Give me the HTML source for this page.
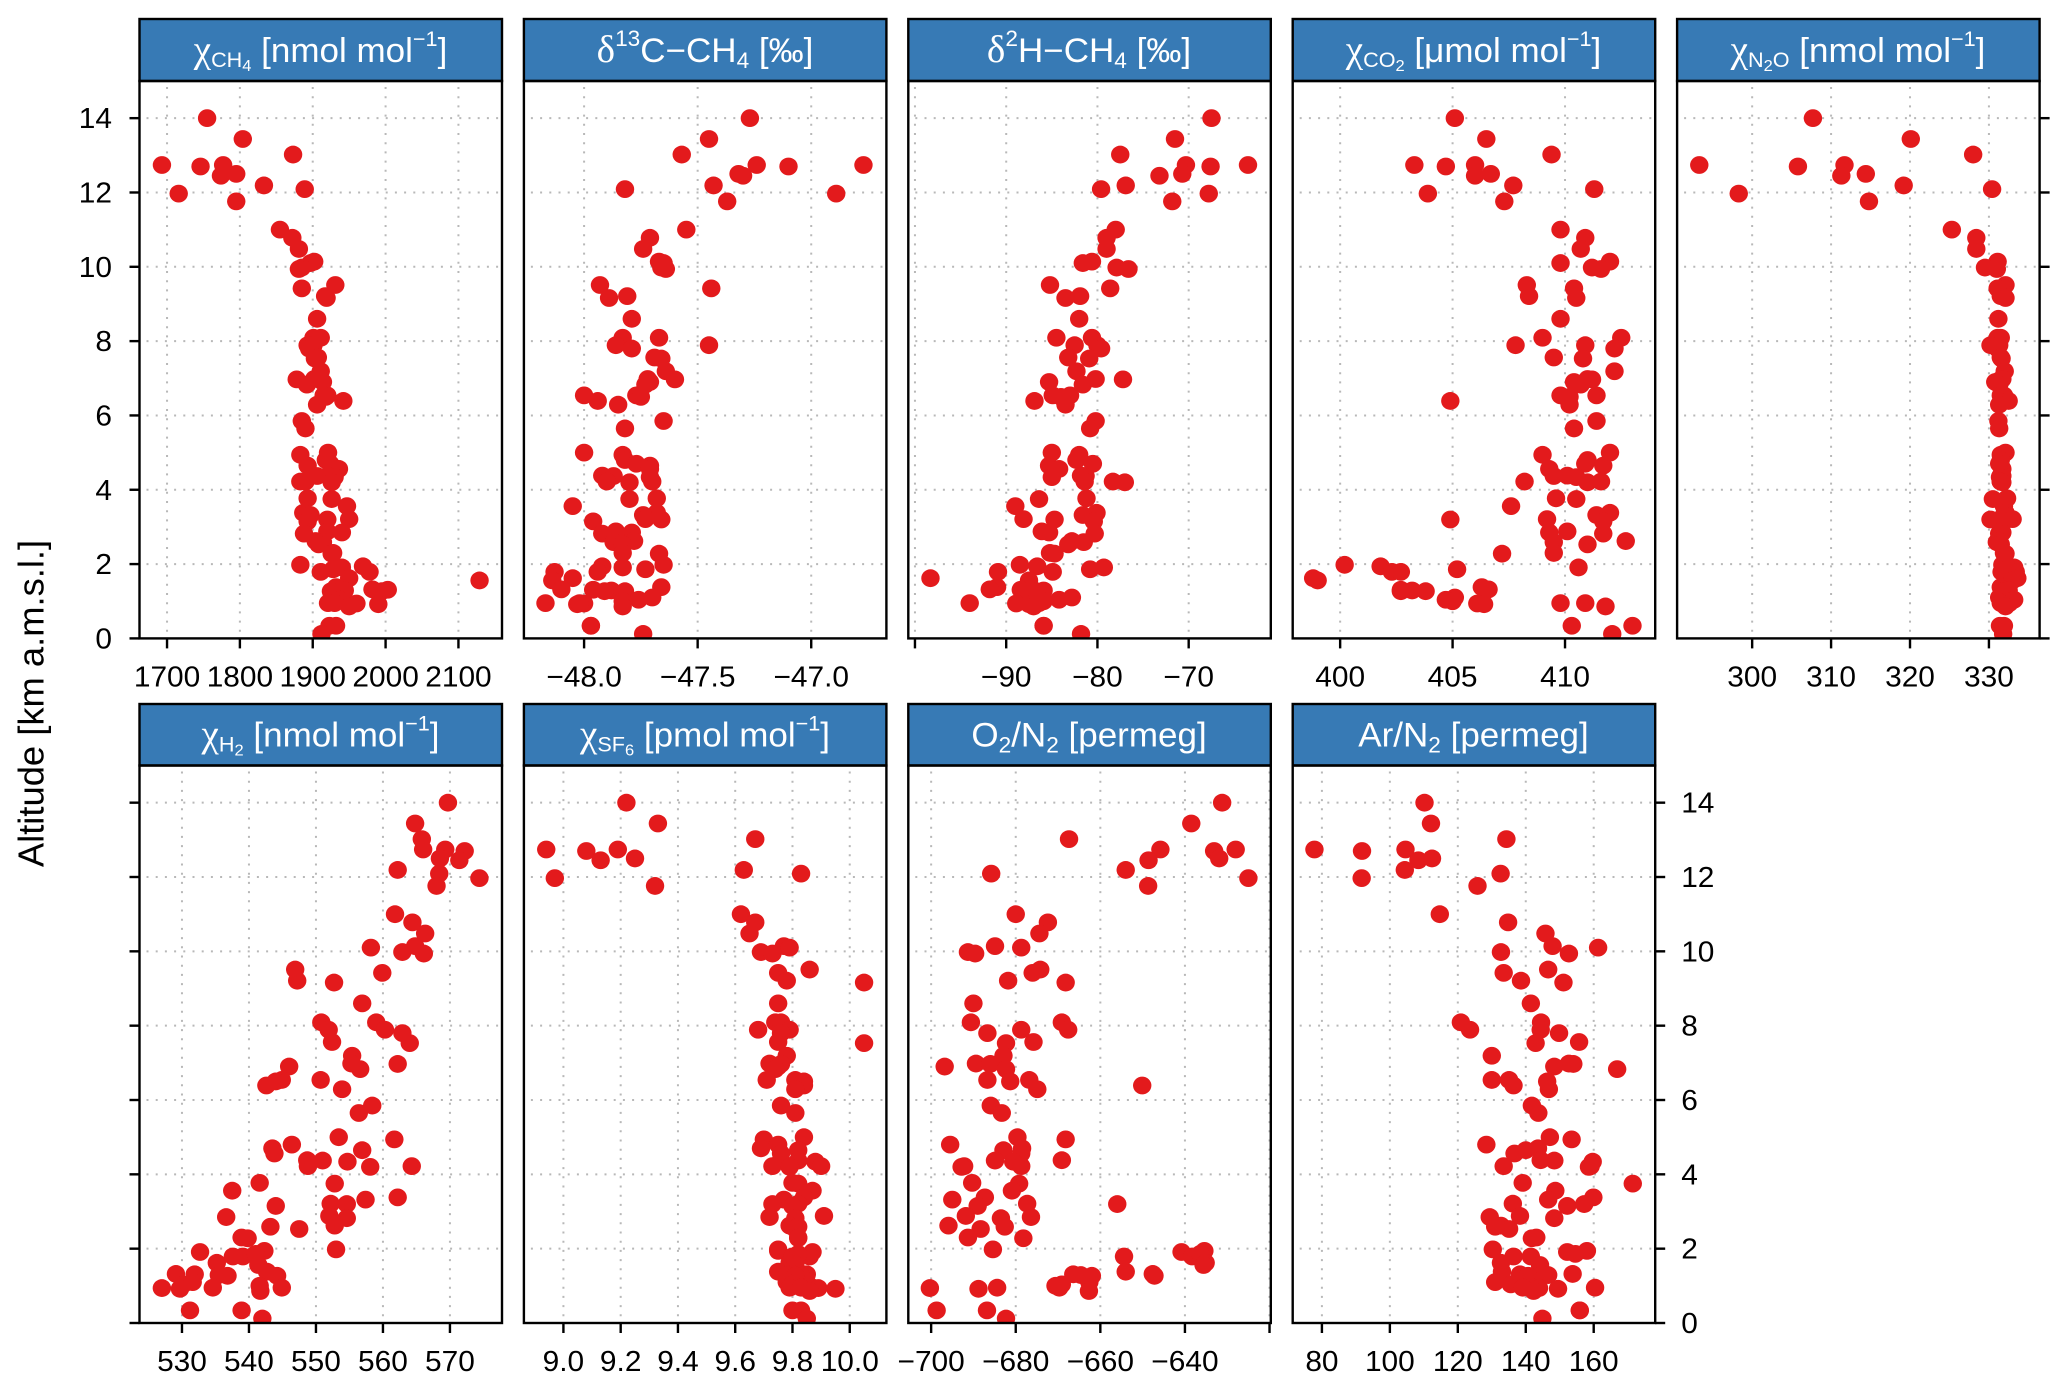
<!DOCTYPE html>
<html lang="en">
<head>
<meta charset="utf-8">
<title>Vertical profiles of trace gases</title>
<style>
html,body{margin:0;padding:0;background:#fff;}
svg{display:block;font-family:"Liberation Sans",sans-serif;}
.strip-title{fill:#fff;font-size:34px;text-anchor:middle;}
.sym{font-family:"Liberation Serif",serif;font-size:38px;}
</style>
</head>
<body>
<svg id="chart" xmlns="http://www.w3.org/2000/svg" width="2067" height="1389" viewBox="0 0 2067 1389">
<rect x="0" y="0" width="2067" height="1389" fill="#fff"/>
<text transform="translate(43.5,703.5) rotate(-90) scale(1.01,1)" text-anchor="middle" font-size="36" fill="#000">Altitude [km a.m.s.l.]</text>
<g id="panels"></g>
<g id="titles">
<g transform="translate(320.5,62) scale(1.03,1)"><text class="strip-title"><tspan class="sym">χ</tspan><tspan font-size="21" dy="5">CH</tspan><tspan font-size="16" dy="4">4</tspan><tspan dy="-9"> [nmol mol</tspan><tspan font-size="21" dy="-16">−1</tspan><tspan dy="16">]</tspan></text></g>
<g transform="translate(705,62) scale(1.03,1)"><text class="strip-title"><tspan class="sym">δ</tspan><tspan font-size="22" dy="-16">13</tspan><tspan dy="16">C−CH</tspan><tspan font-size="22" dy="6">4</tspan><tspan dy="-6"> [‰]</tspan></text></g>
<g transform="translate(1089,62) scale(1.03,1)"><text class="strip-title"><tspan class="sym">δ</tspan><tspan font-size="22" dy="-16">2</tspan><tspan dy="16">H−CH</tspan><tspan font-size="22" dy="6">4</tspan><tspan dy="-6"> [‰]</tspan></text></g>
<g transform="translate(1473.5,62) scale(1.03,1)"><text class="strip-title"><tspan class="sym">χ</tspan><tspan font-size="21" dy="5">CO</tspan><tspan font-size="16" dy="4">2</tspan><tspan dy="-9"> [μmol mol</tspan><tspan font-size="21" dy="-16">−1</tspan><tspan dy="16">]</tspan></text></g>
<g transform="translate(1858,62) scale(1.03,1)"><text class="strip-title"><tspan class="sym">χ</tspan><tspan font-size="21" dy="5">N</tspan><tspan font-size="16" dy="4">2</tspan><tspan font-size="21" dy="-4">O</tspan><tspan dy="-5"> [nmol mol</tspan><tspan font-size="21" dy="-16">−1</tspan><tspan dy="16">]</tspan></text></g>
<g transform="translate(320.5,746.5) scale(1.03,1)"><text class="strip-title"><tspan class="sym">χ</tspan><tspan font-size="21" dy="5">H</tspan><tspan font-size="16" dy="4">2</tspan><tspan dy="-9"> [nmol mol</tspan><tspan font-size="21" dy="-16">−1</tspan><tspan dy="16">]</tspan></text></g>
<g transform="translate(705,746.5) scale(1.03,1)"><text class="strip-title"><tspan class="sym">χ</tspan><tspan font-size="21" dy="5">SF</tspan><tspan font-size="16" dy="4">6</tspan><tspan dy="-9"> [pmol mol</tspan><tspan font-size="21" dy="-16">−1</tspan><tspan dy="16">]</tspan></text></g>
<g transform="translate(1089,746.5) scale(1.03,1)"><text class="strip-title">O<tspan font-size="22" dy="6">2</tspan><tspan dy="-6">/N</tspan><tspan font-size="22" dy="6">2</tspan><tspan dy="-6"> [permeg]</tspan></text></g>
<g transform="translate(1473.5,746.5) scale(1.03,1)"><text class="strip-title">Ar/N<tspan font-size="22" dy="6">2</tspan><tspan dy="-6"> [permeg]</tspan></text></g>
</g>
</svg>
<script>
var altitudes = [14.0,13.44,13.02,12.74,12.7,12.74,12.45,12.5,12.19,12.09,11.97,11.76,11.0,10.78,10.48,10.14,10.1,9.98,9.94,9.51,9.42,9.21,9.16,8.6,8.09,8.09,7.89,7.89,7.8,7.56,7.53,7.19,6.9,6.98,6.97,6.83,6.54,6.54,6.5,6.39,6.29,5.85,5.65,5.0,4.94,4.8,4.7,4.65,4.56,4.38,4.37,4.34,4.22,4.2,4.22,3.77,3.75,3.56,3.38,3.32,3.2,3.21,3.15,2.85,2.88,2.82,2.62,2.59,2.53,2.28,2.3,1.98,1.91,1.94,1.79,1.79,1.86,1.62,1.56,1.38,1.32,1.31,1.29,1.27,1.27,1.1,1.04,1.0,0.94,0.92,0.95,0.95,0.86,0.34,0.34,0.12];

var ch4Values = [1755,1804,1873,1693,1746,1777,1774,1795,1833,1889,1716,1795,1855,1872,1881,1902,1897,1885,1881,1931,1885,1917,1919,1906,1911,1901,1901,1893,1895,1907,1903,1911,1914,1902,1878,1892,1920,1915,1918,1942,1906,1885,1890,1921,1883,1918,1924,1893,1936,1921,1906,1930,1883,1926,1890,1893,1926,1947,1887,1897,1920,1950,1893,1940,1920,1888,1904,1914,1908,1926,1928,1883,1940,1969,1978,1911,1928,1950,2129,1932,1982,2003,1944,1995,1925,1926,1937,1945,1960,1990,1930,1921,1950,1932,1923,1912];

var d13cValues = [-47.27,-47.45,-47.57,-47.24,-47.10,-46.77,-47.30,-47.32,-47.43,-47.82,-46.89,-47.37,-47.55,-47.71,-47.74,-47.67,-47.65,-47.66,-47.64,-47.93,-47.44,-47.81,-47.89,-47.79,-47.83,-47.67,-47.45,-47.86,-47.79,-47.69,-47.66,-47.64,-47.71,-47.72,-47.60,-47.73,-48.0,-47.77,-47.75,-47.94,-47.85,-47.65,-47.82,-48.0,-47.83,-47.82,-47.77,-47.71,-47.71,-47.92,-47.87,-47.71,-47.90,-47.80,-47.70,-47.68,-47.80,-48.05,-47.68,-47.74,-47.66,-47.73,-47.96,-47.79,-47.86,-47.92,-47.78,-47.87,-47.83,-47.67,-47.83,-47.65,-47.83,-47.92,-48.13,-47.94,-47.73,-48.05,-48.14,-47.66,-48.10,-47.96,-47.88,-47.82,-47.91,-47.70,-47.76,-47.83,-48.0,-48.03,-48.02,-48.17,-47.83,-47.97,-47.97,-47.74];

var d2hValues = [-67.5,-71.5,-77.5,-70.3,-67.6,-63.5,-73.2,-70.7,-76.9,-79.6,-67.8,-71.8,-78,-79,-79,-80.6,-81.6,-77.9,-76.6,-85.2,-78.6,-81.9,-83.5,-82,-84.5,-80.6,-82.5,-80,-79.6,-83.2,-80.9,-82.3,-85.3,-80.2,-77.2,-81.6,-84.9,-83,-84,-86.9,-83.5,-80.2,-80.8,-85,-82,-82.3,-80.5,-85.3,-84.2,-81.8,-81.3,-85,-78.3,-77,-81.4,-81.2,-86.4,-89,-80.1,-81.6,-84.7,-88.1,-80.4,-85.3,-86.1,-80.3,-82.8,-81.5,-83.2,-84.7,-85.2,-88.5,-79.3,-86.6,-90.9,-84.9,-80.8,-98.3,-87.5,-91,-91.8,-88.4,-85.9,-87.5,-86.7,-82.8,-84.2,-85.9,-88.9,-87.5,-86.4,-94,-87,-85.9,-85.9,-81.8];

var co2Values = [405.1,406.5,409.4,403.3,404.7,406.0,406,406.7,407.7,411.3,403.9,407.3,409.8,410.9,410.7,412,409.8,411.2,411.6,408.3,410.4,408.4,410.5,409.8,412.5,409,407.8,410.9,412.2,409.5,410.8,412.2,410.4,411,411.2,410.7,409.8,411.4,410.2,404.9,410.2,411.4,410.4,412,409,411,410.9,411.7,409.3,410.1,409.5,410.5,408.2,411,411.6,409.6,410.5,407.6,412,411.4,404.9,409.2,411.7,409.3,410.1,411.7,412.7,409.5,411,407.2,409.5,400.2,410.6,401.8,402.3,402.7,405.2,398.8,399,406.3,406.6,402.7,403.2,403.8,402.7,405.1,404.7,405,406.1,406.4,409.8,410.9,411.8,410.3,413,412.1];

var n2oValues = [307.7,320.1,328,293.3,305.8,311.7,311.3,314.4,319.2,330.4,298.3,314.8,325.3,328.4,328.4,331.1,331,329.5,331,332.1,331.1,331.5,332.1,331.2,331.5,331.1,330.2,331.3,331.1,331.5,331.6,332,330.8,331.7,331.5,331.3,331.9,331.5,332,332.5,331.3,331.2,331.3,332.1,331.5,331.5,331.3,331.5,331.7,331.5,331.7,331.4,331.5,331.7,331.5,332.3,330.5,331.9,332.1,331.9,330.2,333,331.9,331.7,331.5,331.3,331.3,331,331.5,332.1,331.9,331.7,333.2,332.5,331.6,333.4,332.3,333.6,333,331.5,332.3,331.9,332.5,331.7,332.1,331.3,333.2,332.3,331.7,331.9,332.6,331.5,332.1,331.4,331.9,331.8];

var h2Values = [569.7,564.8,565.8,569.3,572.2,566,571.4,568.5,562.2,568.4,574.4,568,561.8,564.4,566.3,564.8,558.2,562.9,566.1,546.9,559.9,547.2,552.7,556.9,550.8,559,551.9,560.3,562.9,552.4,564,555.4,546,555.3,562.2,556.6,544.9,550.7,544,542.6,553.9,558.4,556.4,553.4,561.7,546.4,543.5,556.9,543.8,548.7,551,554.7,548.8,558.1,564.3,541.6,552.8,537.5,562.2,557.4,554.6,552.2,544,536.6,552,554.6,552.8,543.2,547.5,539.8,538.9,553,532.7,542.3,537.6,539.1,541,535.2,541.4,542.7,529.1,531.9,535.5,536.8,544.2,531.6,530.2,541.6,527,529.7,534.6,544.9,541.7,531.2,538.9,542];

var sf6Values = [9.22,9.33,9.67,8.94,9.08,9.19,9.13,9.25,9.63,9.83,8.97,9.32,9.62,9.67,9.65,9.77,9.79,9.69,9.73,9.86,9.75,9.78,10.05,9.75,9.74,9.76,9.68,9.79,9.76,9.75,10.05,9.78,9.75,9.72,9.76,9.74,9.71,9.81,9.84,9.84,9.81,9.76,9.81,9.84,9.70,9.75,9.69,9.82,9.76,9.76,9.82,9.88,9.73,9.79,9.90,9.80,9.82,9.87,9.84,9.77,9.73,9.82,9.80,9.72,9.91,9.81,9.79,9.82,9.81,9.82,9.82,9.75,9.87,9.75,9.86,9.80,9.82,9.79,9.81,9.75,9.80,9.85,9.78,9.83,9.81,9.78,9.80,9.86,9.89,9.95,9.79,9.83,9.86,9.80,9.83,9.85];

var o2n2Values = [-631.2,-638.5,-667.4,-645.8,-633.1,-628,-648.6,-631.9,-654,-685.8,-625,-648.7,-680,-672.4,-674.4,-684.9,-678.7,-691.3,-689.6,-674.2,-676,-681.8,-668.2,-690,-669.1,-690.6,-678.7,-667.6,-686.7,-675.8,-682.3,-682.9,-696.8,-689.4,-686,-682.3,-676.8,-686.7,-681.3,-650.1,-674.9,-685.9,-683.3,-679.6,-668.2,-695.5,-678.5,-682.9,-678.7,-669.1,-684.9,-680.6,-692.2,-692.8,-678.7,-690.3,-679.2,-680.9,-687.3,-695,-656,-677.3,-689,-676.4,-691.8,-683.5,-695.9,-682.6,-688.3,-678.2,-691.3,-685.4,-640.8,-635.4,-654.4,-638.3,-636.4,-635.1,-635.6,-654,-647.6,-666.4,-664.6,-647.2,-662,-662.6,-669.1,-670.6,-700.3,-688.8,-684.4,-669.7,-662.7,-698.7,-686.8,-682.3];

var arn2Values = [110.2,112.1,134.3,77.8,91.8,104.6,108.4,112.4,104.4,132.6,91.7,125.8,114.7,134.8,145.8,147.9,161.3,132.7,152.7,146.6,133.5,138.6,151.1,141.5,120.9,144.5,123.6,144.4,149.8,155.7,142.9,130,148.4,152.7,154,166.9,130,135.1,146.3,136.4,146.8,141.8,143.7,147.1,153.5,128.4,143.6,140,136.7,144.4,148.4,159.7,133.5,158.6,159.1,139.1,171.5,148.7,159.9,146.6,157.2,136.2,152.2,129.4,138.3,148.4,132.7,131,135.1,141.8,143.1,130.3,152.2,158,136.4,141.5,154.6,132.7,144.2,133,153.8,138.3,146.6,142.3,140.7,131,135.6,141,143.9,149.5,160.4,139.1,142.3,155.9,155.9,144.9];

var ch4Ticks = [1700,1800,1900,2000,2100];
var ch4Labels = ["1700","1800","1900","2000","2100"];
var d13cTicks = [-48,-47.5,-47];
var d13cLabels = ["−48.0","−47.5","−47.0"];
var d2hTicks = [-100,-90,-80,-70];
var d2hLabels = ["","−90","−80","−70"];
var co2Ticks = [400,405,410];
var co2Labels = ["400","405","410"];
var n2oTicks = [300,310,320,330];
var n2oLabels = ["300","310","320","330"];
var h2Ticks = [530,540,550,560,570];
var h2Labels = ["530","540","550","560","570"];
var sf6Ticks = [9.0,9.2,9.4,9.6,9.8,10.0];
var sf6Labels = ["9.0","9.2","9.4","9.6","9.8","10.0"];
var o2n2Ticks = [-700,-680,-660,-640,-620];
var o2n2Labels = ["−700","−680","−660","−640",""];
var arn2Ticks = [80,100,120,140,160];
var arn2Labels = ["80","100","120","140","160"];
var altitudeTicks = [0,2,4,6,8,10,12,14];
var altitudeLabels = ["0","2","4","6","8","10","12","14"];
var altitudeRange = [0,15];

var ch4Range = [1662.2,2159.8];
var d13cRange = [-48.265,-46.669];
var d2hRange = [-100.73,-61.0];
var co2Range = [397.89,414.01];
var n2oRange = [290.49,336.42];
var h2Range = [523.66,577.77];
var sf6Range = [8.862,10.128];
var o2n2Range = [-705.4,-619.7];
var arn2Range = [71.4,178.1];

var panelDefs = [
 {key:"ch4",col:0,row:0,values:ch4Values,ticks:ch4Ticks,labels:ch4Labels,range:ch4Range,left:true,leftLabels:true},
 {key:"d13c",col:1,row:0,values:d13cValues,ticks:d13cTicks,labels:d13cLabels,range:d13cRange},
 {key:"d2h",col:2,row:0,values:d2hValues,ticks:d2hTicks,labels:d2hLabels,range:d2hRange},
 {key:"co2",col:3,row:0,values:co2Values,ticks:co2Ticks,labels:co2Labels,range:co2Range},
 {key:"n2o",col:4,row:0,values:n2oValues,ticks:n2oTicks,labels:n2oLabels,range:n2oRange,right:true},
 {key:"h2",col:0,row:1,values:h2Values,ticks:h2Ticks,labels:h2Labels,range:h2Range,left:true},
 {key:"sf6",col:1,row:1,values:sf6Values,ticks:sf6Ticks,labels:sf6Labels,range:sf6Range},
 {key:"o2n2",col:2,row:1,values:o2n2Values,ticks:o2n2Ticks,labels:o2n2Labels,range:o2n2Range},
 {key:"arn2",col:3,row:1,values:arn2Values,ticks:arn2Ticks,labels:arn2Labels,range:arn2Range,right:true,rightLabels:true}
];

var NS = "http://www.w3.org/2000/svg";
var colStart = 139.5, colStep = 384.4, panelW = 362.5;
var rowStripTop = [19, 704], rowPlotTop = [81, 765.5], rowPlotBottom = [638.4, 1323];

function mk(parent, tag, attrs) {
  var el = document.createElementNS(NS, tag);
  for (var k in attrs) { el.setAttribute(k, attrs[k]); }
  parent.appendChild(el);
  return el;
}
function scaleLinear(domain, r0, r1) {
  return function (v) { return r0 + (v - domain[0]) / (domain[1] - domain[0]) * (r1 - r0); };
}
function stretchedText(parent, x, y, str, anchor) {
  var t = mk(parent, "text", {transform: "translate(" + x + "," + y + ") scale(1.03,1)", "text-anchor": anchor, "font-size": 29, fill: "#000"});
  t.textContent = str;
  return t;
}

var root = document.getElementById("panels");
var defs = mk(root, "defs", {});

panelDefs.forEach(function (p) {
  var x0 = colStart + p.col * colStep, x1 = x0 + panelW;
  var yTop = rowPlotTop[p.row], yBot = rowPlotBottom[p.row], stripTop = rowStripTop[p.row];
  var xs = scaleLinear(p.range, x0, x1);
  var ys = scaleLinear(altitudeRange, yBot, yTop);
  var g = mk(root, "g", {});
  
  

  var cp = mk(defs, "clipPath", {id: "clip-" + p.key});
  mk(cp, "rect", {x: x0, y: yTop, width: panelW, height: yBot - yTop});

  var strip = mk(g, "rect", {x: x0, y: stripTop, width: panelW, height: yTop - stripTop, fill: "#377ab5", stroke: "#000", "stroke-width": 2.4});
  
  

  var grid = mk(g, "g", {stroke: "#b8b8b8", "stroke-width": 2, "stroke-dasharray": "2 7.2", fill: "none"});
  
  
  p.ticks.forEach(function (t) {
    var gx = mk(grid, "line", {x1: xs(t), x2: xs(t), y1: yTop + 6, y2: yBot});
    
    
  });
  altitudeTicks.forEach(function (t) {
    if (t === 0) { return; }
    var gy = mk(grid, "line", {x1: x0 + 7, x2: x1 - 3, y1: ys(t), y2: ys(t)});
    
    
  });

  var pts = mk(g, "g", {"clip-path": "url(#clip-" + p.key + ")", fill: "#e31a1c"});
  
  
  p.values.forEach(function (v, i) {
    var dot = mk(pts, "ellipse", {cx: xs(v), cy: ys(altitudes[i]), rx: 9.2, ry: 8.9});
    
    
  });

  var frame = mk(g, "rect", {x: x0, y: yTop, width: panelW, height: yBot - yTop, fill: "none", stroke: "#000", "stroke-width": 2.4});
  
  

  var ax = mk(g, "g", {stroke: "#000", "stroke-width": 2.4});
  
  
  p.ticks.forEach(function (t, i) {
    var tick = mk(ax, "line", {x1: xs(t), x2: xs(t), y1: yBot, y2: yBot + 10});
    
    
    if (p.labels[i]) {
      var lab = stretchedText(g, xs(t), yBot + 48, p.labels[i], "middle");
      
      
    }
  });

  if (p.left || p.right) {
    var ay = mk(g, "g", {stroke: "#000", "stroke-width": 2.4});
    
    
    altitudeTicks.forEach(function (t, i) {
      var xa = p.left ? x0 - 10 : x1, xb = p.left ? x0 : x1 + 10;
      var yt = mk(ay, "line", {x1: xa, x2: xb, y1: ys(t), y2: ys(t)});
      
      
      if (p.leftLabels) {
        var ll = stretchedText(g, 112, ys(t) + 10, altitudeLabels[i], "end");
        
        
      }
      if (p.rightLabels) {
        var rl = stretchedText(g, x1 + 26, ys(t) + 10, altitudeLabels[i], "start");
        
        
      }
    });
  }
});
</script>
</body>
</html>
